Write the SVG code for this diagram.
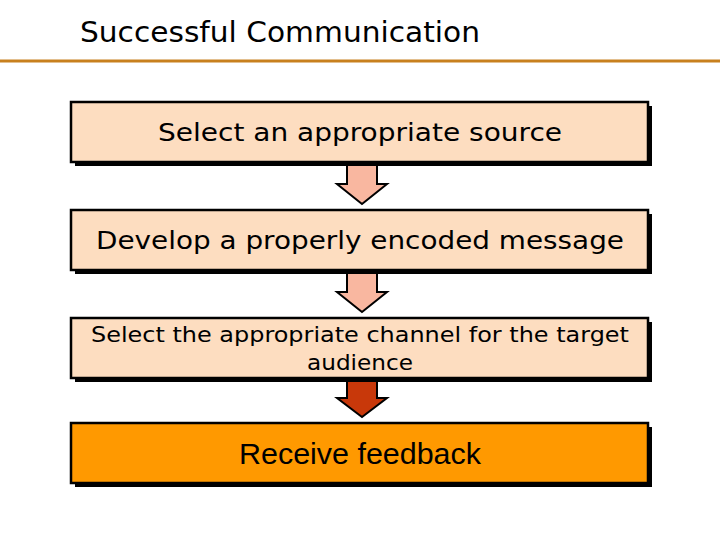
<svg xmlns="http://www.w3.org/2000/svg" width="720" height="540" viewBox="0 0 720 540">
<style>
text{font-family:"DejaVu Sans",Verdana,sans-serif;fill:#000;text-anchor:middle}
.sh{fill:#000}
.bx{fill:#FDDDC0;stroke:#000;stroke-width:2.5}
.ar{fill:#F9B7A0;stroke:#000;stroke-width:2}
</style>
<rect width="720" height="540" fill="#fff"/>
<text x="80" y="42" font-size="28" style="text-anchor:start" textLength="400" lengthAdjust="spacingAndGlyphs">Successful Communication</text>
<line x1="0" y1="61" x2="720" y2="61" stroke="#C8801E" stroke-width="3"/>
<g id="connectors">
<polygon class="ar" points="347,162 377,162 377,184 387,184 362,204 337,184 347,184"/>
<polygon class="ar" points="347,270 377,270 377,292 387,292 362,312 337,292 347,292"/>
<polygon class="ar" points="347,378 377,378 377,398 387,398 362,417 337,398 347,398" style="fill:#C8380A"/>
</g>
<g id="n1"><rect class="sh" x="75" y="106" width="577" height="60"/><rect class="bx" x="71" y="102" width="577" height="60"/><text x="360" y="141" font-size="25" textLength="404" lengthAdjust="spacingAndGlyphs">Select an appropriate source</text></g>
<g id="n2"><rect class="sh" x="75" y="214" width="577" height="60"/><rect class="bx" x="71" y="210" width="577" height="60"/><text x="360" y="249" font-size="25" textLength="528" lengthAdjust="spacingAndGlyphs">Develop a properly encoded message</text></g>
<g id="n3"><rect class="sh" x="75" y="322" width="577" height="60"/><rect class="bx" x="71" y="318" width="577" height="60"/><text x="360" y="342" font-size="21" textLength="538" lengthAdjust="spacingAndGlyphs">Select the appropriate channel for the target</text><text x="360" y="370" font-size="21" textLength="106" lengthAdjust="spacingAndGlyphs">audience</text></g>
<g id="n4"><rect class="sh" x="75" y="427" width="577" height="60"/><rect class="bx" x="71" y="423" width="577" height="60" style="fill:#FF9900"/><text x="360" y="464" font-size="29" style="font-family:'Liberation Sans',Arial,sans-serif" textLength="242" lengthAdjust="spacingAndGlyphs">Receive feedback</text></g>
</svg>
